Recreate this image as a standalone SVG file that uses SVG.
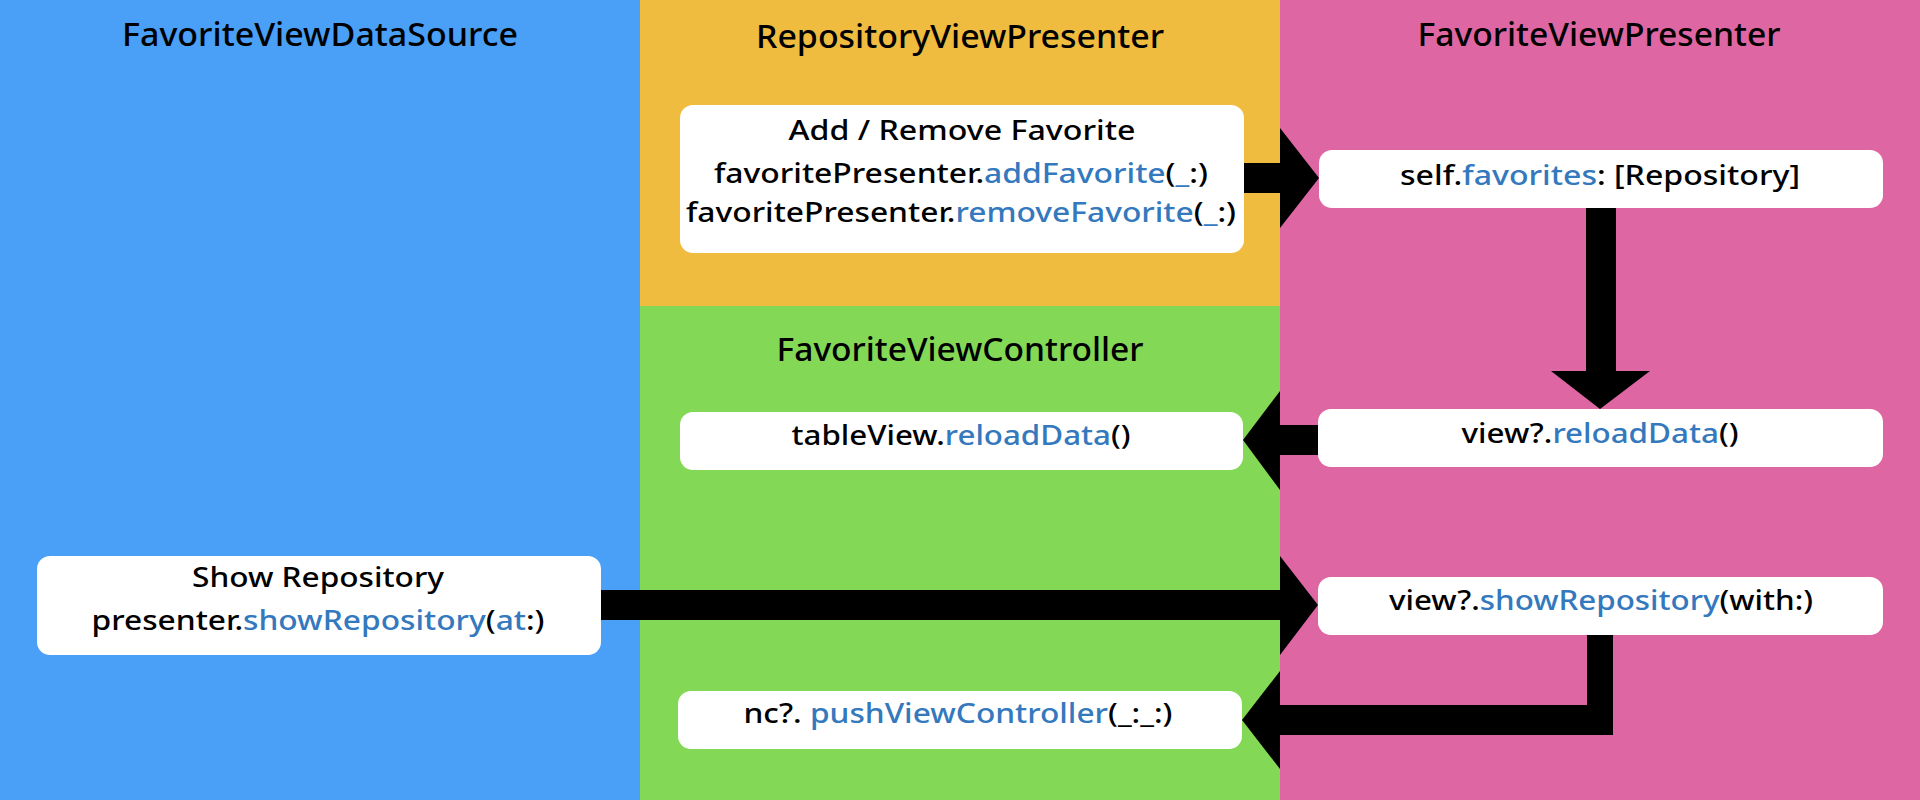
<svg xmlns="http://www.w3.org/2000/svg" width="1920" height="800" viewBox="0 0 1920 800">
<style>
.title{font-family:"Noto Sans","Liberation Sans",sans-serif;font-size:32px;font-weight:500;fill:#000;text-anchor:middle}
.t{font-family:"Noto Sans","Liberation Sans",sans-serif;font-size:27px;font-weight:500;fill:#000;text-anchor:middle}
.b{fill:#3478BE}
.box{fill:#fff}
.arrow{fill:#000}
</style>
<g id="lanes">
<rect x="0" y="0" width="640" height="800" fill="#4A9FF7"/>
<rect x="640" y="0" width="640" height="306" fill="#EFBC40"/>
<rect x="640" y="306" width="640" height="494" fill="#83D856"/>
<rect x="1280" y="0" width="640" height="800" fill="#DE67A3"/>
<text class="title" x="320" y="46" textLength="396" lengthAdjust="spacingAndGlyphs">FavoriteViewDataSource</text>
<text class="title" x="960" y="48" textLength="408" lengthAdjust="spacingAndGlyphs">RepositoryViewPresenter</text>
<text class="title" x="1599" y="46" textLength="363" lengthAdjust="spacingAndGlyphs">FavoriteViewPresenter</text>
<text class="title" x="960" y="361" textLength="367" lengthAdjust="spacingAndGlyphs">FavoriteViewController</text>
</g>
<g id="connectors">
<polygon class="arrow" points="1244,163 1280,163 1280,128 1319,178 1280,228 1280,193 1244,193"/>
<polygon class="arrow" points="1586,208 1616,208 1616,371 1650,371 1600,409 1551,371 1586,371"/>
<polygon class="arrow" points="1319,425 1280,425 1280,391 1243,440 1280,490 1280,455 1319,455"/>
<polygon class="arrow" points="601,590 1280,590 1280,556 1318,605 1280,655 1280,620 601,620"/>
<polygon class="arrow" points="1587,635 1613,635 1613,735 1280,735 1280,769 1242,720 1280,671 1280,705 1587,705"/>
</g>
<g id="add-remove-favorite">
<rect class="box" x="680" y="105" width="564" height="148" rx="13"/>
<text class="t" x="962" y="140" textLength="347" lengthAdjust="spacingAndGlyphs">Add / Remove Favorite</text>
<text class="t" x="961" y="183" textLength="494" lengthAdjust="spacingAndGlyphs">favoritePresenter.<tspan class="b">addFavorite</tspan>(<tspan class="b">_</tspan>:)</text>
<text class="t" x="961" y="222" textLength="550" lengthAdjust="spacingAndGlyphs">favoritePresenter.<tspan class="b">removeFavorite</tspan>(<tspan class="b">_</tspan>:)</text>
</g>
<g id="self-favorites">
<rect class="box" x="1319" y="150" width="564" height="58" rx="13"/>
<text class="t" x="1600" y="185" textLength="400" lengthAdjust="spacingAndGlyphs">self.<tspan class="b">favorites</tspan>: [Repository]</text>
</g>
<g id="view-reload-data">
<rect class="box" x="1318" y="409" width="565" height="58" rx="13"/>
<text class="t" x="1600" y="443" textLength="277" lengthAdjust="spacingAndGlyphs">view?.<tspan class="b">reloadData</tspan>()</text>
</g>
<g id="view-show-repository">
<rect class="box" x="1318" y="577" width="565" height="58" rx="13"/>
<text class="t" x="1601" y="610" textLength="424" lengthAdjust="spacingAndGlyphs">view?.<tspan class="b">showRepository</tspan>(with:)</text>
</g>
<g id="tableview-reload-data">
<rect class="box" x="680" y="412" width="563" height="58" rx="13"/>
<text class="t" x="961" y="445" textLength="339" lengthAdjust="spacingAndGlyphs">tableView.<tspan class="b">reloadData</tspan>()</text>
</g>
<g id="push-view-controller">
<rect class="box" x="678" y="691" width="564" height="58" rx="13"/>
<text class="t" x="958" y="723" textLength="429" lengthAdjust="spacingAndGlyphs">nc?. <tspan class="b">pushViewController</tspan>(_:_:)</text>
</g>
<g id="show-repository">
<rect class="box" x="37" y="556" width="564" height="99" rx="13"/>
<text class="t" x="318" y="587" textLength="252" lengthAdjust="spacingAndGlyphs">Show Repository</text>
<text class="t" x="318" y="630" textLength="453" lengthAdjust="spacingAndGlyphs">presenter.<tspan class="b">showRepository</tspan>(<tspan class="b">at</tspan>:)</text>
</g>
</svg>
